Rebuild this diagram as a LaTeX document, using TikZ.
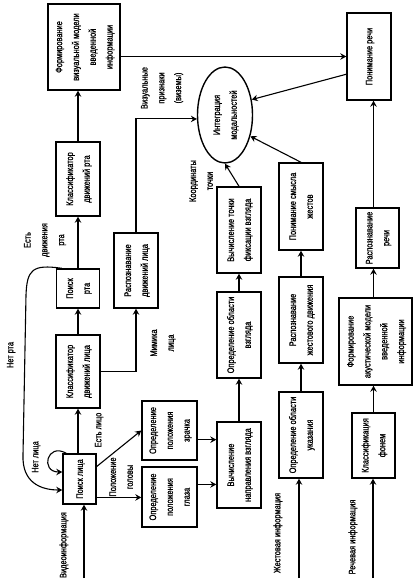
\documentclass[tikz,border=0pt]{standalone}
\usepackage{fontspec}
\usepackage{graphicx}
\usetikzlibrary{arrows.meta,shapes.geometric}
\newfontfamily\schemefont[FakeStretch=0.78,FakeBold=1]{Liberation Sans}
\newcommand{\vt}[1]{\rotatebox{90}{\renewcommand{\arraystretch}{1.4}\begin{tabular}{@{}c@{}}#1\end{tabular}}}

\begin{document}
\begin{tikzpicture}[x=1pt, y=-1pt, line width=1.1pt, >={Stealth[length=6pt,width=6.5pt,inset=2pt]},
	block/.style={draw, line width=1.4pt, inner sep=0pt, font=\schemefont\fontsize{9.5}{12}\selectfont},
	note/.style={inner sep=0pt, font=\schemefont\fontsize{9.5}{12}\selectfont}]
	\useasboundingbox (0,0) rectangle (414,580);
	\node[block, minimum width=72, minimum height=86] (formvis) at (84,47) {\vt{Формирование\\визуальной модели\\введенной\\информации}};
	\node[block, minimum width=44, minimum height=74] (klassrta) at (78,179) {\vt{Классификатор\\движений рта}};
	\node[block, minimum width=43, minimum height=39] (poiskrta) at (78,288.5) {\vt{Поиск\\рта}};
	\node[block, minimum width=44, minimum height=73] (klasslica) at (78,371.5) {\vt{Классификатор\\движений лица}};
	\node[block, minimum width=33, minimum height=50] (poisklica) at (79.5,479) {\vt{Поиск лица}};
	\node[block, minimum width=44, minimum height=75] (raspdvlica) at (136,270.5) {\vt{Распознавание\\движений лица}};
	\node[block, minimum width=55, minimum height=59] (zrachok) at (169.5,430.5) {\vt{Определение\\положения\\зрачка}};
	\node[block, minimum width=55, minimum height=60] (glaza) at (169.5,497) {\vt{Определение\\положения\\глаза}};
	\node[block, minimum width=44, minimum height=86] (napravl) at (239,465) {\vt{Вычисление\\направления взгляда}};
	\node[block, minimum width=44, minimum height=86] (oblvzgl) at (239,335) {\vt{Определение области\\взгляда}};
	\node[block, minimum width=44, minimum height=86] (tochka) at (239,230) {\vt{Вычисление точки\\фиксации взгляда}};
	\node[block, ellipse, minimum width=55, minimum height=96] (integr) at (225,115) {\vt{Интеграция\\модальностей}};
	\node[block, minimum width=44, minimum height=86] (ukaz) at (301,435) {\vt{Определение области\\указания}};
	\node[block, minimum width=44, minimum height=86] (raspzhest) at (301,320) {\vt{Распознавание\\жестового движения}};
	\node[block, minimum width=44, minimum height=87] (smysl) at (301,206.5) {\vt{Понимание смысла\\жестов}};
	\node[block, minimum width=43, minimum height=65] (fonem) at (373.5,445.5) {\vt{Классификация\\фонем}};
	\node[block, minimum width=73, minimum height=87] (formak) at (375.5,341.5) {\vt{Формирование\\акустической модели\\введенной\\информации}};
	\node[block, minimum width=43, minimum height=60] (raspr) at (377.5,238) {\vt{Распознавание\\речи}};
	\node[block, minimum width=44, minimum height=87] (ponimr) at (369,56.5) {\vt{Понимание речи}};

	\node[note] (vizpr) at (161,88) {\vt{Визуальные\\признаки\\(виземы)}};
	\node[note] (koord) at (201,181) {\vt{Координаты\\точки}};
	\node[note] (mimika) at (162,343) {\vt{Мимика\\лица}};
	\node[note] (estrta) at (44,240) {\vt{Есть\\движения\\рта}};
	\node[note] (netrta) at (10,355) {\vt{Нет рта}};
	\node[note] (netlica) at (35,457) {\vt{Нет лица}};
	\node[note] (estlica) at (98,430) {\vt{Есть лицо}};
	\node[note] (polgol) at (121,477) {\vt{Положение\\головы}};
	\node[note] (videoinf) at (63,545) {\vt{Видеоинформация}};
	\node[note] (zhestinf) at (277,533) {\vt{Жестовая информация}};
	\node[note] (rechinf) at (352,537) {\vt{Речевая информация}};

	\coordinate (vin) at (84,578);
	\coordinate (zin) at (299,578);
	\coordinate (rin) at (373,578);

	\draw[->] (vin) -- (vin |- poisklica.south);
	\draw[->] (zin) -- (zin |- ukaz.south);
	\draw[->] (rin) -- (rin |- fonem.south);

	\draw[->] (poisklica.north -| klasslica) -- (klasslica.south);
	\draw[->] (klasslica.north) -- (poiskrta.south);
	\draw[->] (poiskrta.north) -- (klassrta.south);
	\draw[->] (klassrta.north) -- (klassrta.north |- formvis.south);
	\draw[->] (klasslica.east) -| (raspdvlica.south);
	\draw[->] (raspdvlica.north) |- (integr.188);
	\draw[->] (formvis.east |- ponimr) -- (ponimr.west);
	\draw[->] (ponimr.218) -- (integr.30);
	\draw[->] (smysl.north) -- (integr.-40);
	\draw[->] (tochka.north) -- (integr.south);
	\draw[->] (oblvzgl.north) -- (tochka.south);
	\draw[->] (napravl.north) -- (oblvzgl.south);
	\draw[->] (zrachok.-18) -- (zrachok.-18 -| napravl.west);
	\draw[->] (glaza.24) -- (glaza.24 -| napravl.west);
	\draw[->] (poisklica.36) -- (zrachok.west);
	\draw[->] (poisklica.-47) -- (poisklica.-47 -| glaza.west);
	\draw[->] (raspzhest.north) -- (smysl.south);
	\draw[->] (ukaz.north) -- (raspzhest.south);
	\draw[->] (fonem.north) -- (fonem.north |- formak.south);
	\draw[->] (formak.north -| fonem) -- (fonem |- raspr.south);
	\draw[->] (raspr.north -| fonem) -- (fonem |- ponimr.south);

	\draw[->] ([xshift=4pt]poisklica.north west) to[out=150, in=180, looseness=3] ([yshift=7pt]poisklica.west);
	\draw[->] ([xshift=6pt]poiskrta.north west) .. controls (32,264) and (27,270) .. (26,295) -- (23,455) .. controls (22,482) and (40,490) .. ([yshift=-11pt]poisklica.west);
\end{tikzpicture}
\end{document}
